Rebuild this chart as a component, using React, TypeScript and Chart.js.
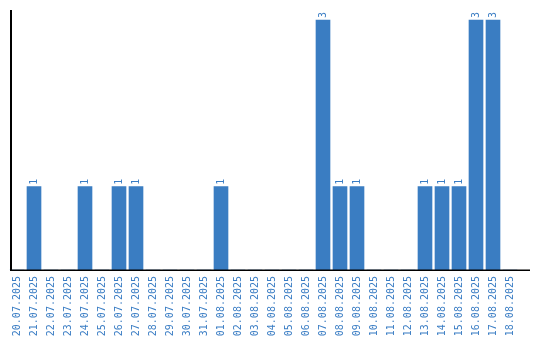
import React, { useEffect, useRef } from "react";
import { Chart, registerables } from "chart.js";

Chart.register(...registerables);

const categories = [
  "20.07.2025", "21.07.2025", "22.07.2025", "23.07.2025", "24.07.2025", "25.07.2025",
  "26.07.2025", "27.07.2025", "28.07.2025", "29.07.2025", "30.07.2025", "31.07.2025",
  "01.08.2025", "02.08.2025", "03.08.2025", "04.08.2025", "05.08.2025", "06.08.2025",
  "07.08.2025", "08.08.2025", "09.08.2025", "10.08.2025", "11.08.2025", "12.08.2025",
  "13.08.2025", "14.08.2025", "15.08.2025", "16.08.2025", "17.08.2025", "18.08.2025",
];
const counts = [
  0, 1, 0, 0, 1, 0,
  1, 1, 0, 0, 0, 0,
  1, 0, 0, 0, 0, 0,
  3, 1, 1, 0, 0, 0,
  1, 1, 1, 3, 3, 0,
];

const BLUE = "#3a7dc2";
const LABEL_BLUE = "#3a7dc4";
const FONT = "'DejaVu Sans Mono', 'Liberation Mono', monospace";

const axisLines = {
  id: "axisLines",
  afterDraw(chart: any) {
    const ctx = chart.ctx;
    const y = chart.scales.y;
    const bottom = y.getPixelForValue(0);
    ctx.save();
    ctx.fillStyle = "#000";
    ctx.fillRect(10, y.top, 2, bottom - y.top + 1);
    ctx.fillRect(10, bottom - 0.5, 520, 1.5);
    ctx.restore();
  },
};

const barLabels = {
  id: "barLabels",
  afterDatasetsDraw(chart: any) {
    const ctx = chart.ctx;
    const meta = chart.getDatasetMeta(0);
    ctx.save();
    ctx.fillStyle = LABEL_BLUE;
    ctx.font = "10px " + FONT;
    ctx.textAlign = "left";
    ctx.textBaseline = "middle";
    meta.data.forEach((el: any, i: number) => {
      const v = counts[i];
      if (!v) return;
      ctx.save();
      ctx.translate(el.x, el.y - 2);
      ctx.rotate(-Math.PI / 2);
      ctx.fillText(String(v), 0, 0);
      ctx.restore();
    });
    ctx.restore();
  },
};

export default function App() {
  const ref = useRef<HTMLCanvasElement>(null);
  useEffect(() => {
    document.body.style.margin = "0";
    const chart = new Chart(ref.current!, {
      type: "bar",
      data: {
        labels: categories,
        datasets: [
          {
            data: counts,
            backgroundColor: BLUE,
            borderWidth: 0,
            barThickness: 14,
          },
        ],
      },
      options: {
        responsive: false,
        animation: false,
        layout: { padding: { left: 8.5, right: 21.5, top: 10, bottom: 0 } },
        plugins: { legend: { display: false }, tooltip: { enabled: false } },
        scales: {
          x: {
            grid: { display: false, drawTicks: false },
            border: { display: false },
            ticks: {
              color: LABEL_BLUE,
              font: { family: FONT, size: 10 },
              maxRotation: 90,
              minRotation: 90,
              autoSkip: false,
              padding: 6,
            },
            afterFit(scale: any) {
              scale.height = 70;
            },
          },
          y: {
            display: false,
            min: 0,
            max: 3.12,
          },
        },
      },
      plugins: [axisLines, barLabels],
    });
    return () => chart.destroy();
  }, []);
  return (
    <div style={{ width: 540, height: 340 }}>
      <canvas ref={ref} width={540} height={340} />
    </div>
  );
}
